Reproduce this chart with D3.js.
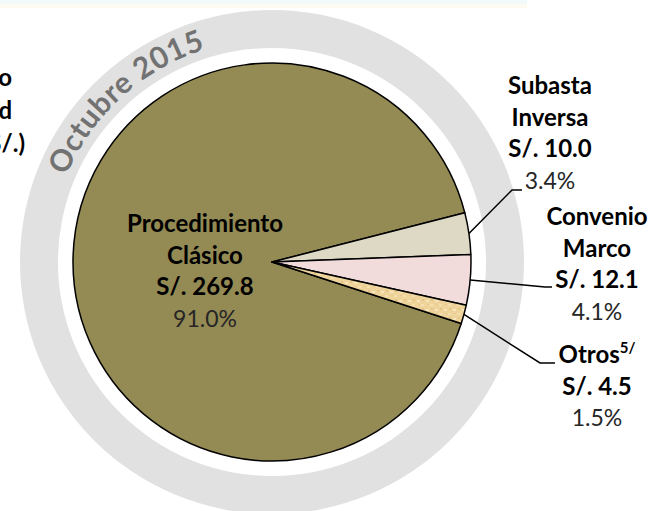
<!DOCTYPE html>
<html lang="es">

<head>
    <meta charset="UTF-8">
    <title>Monto adjudicado - Octubre 2015</title>
    <script src="https://d3js.org/d3.v7.min.js"></script>
    <style>
        body { margin: 0; background: #fff; }
        text { font-family: Lato, "Open Sans", sans-serif; }
    </style>
</head>

<body>
    <svg id="chart" width="652" height="511"></svg>

    <script>
        // datos del gráfico
        const categorias = ["Procedimiento Clásico", "Subasta Inversa", "Convenio Marco", "Otros"];
        const montos = [269.8, 10.0, 12.1, 4.5];
        const lineasNombre = [["Procedimiento", "Clásico"], ["Subasta", "Inversa"], ["Convenio", "Marco"], ["Otros"]];
        const periodo = "Octubre 2015";
        const tituloLineas = ["Monto adjudicado", "según modalidad", "(millones de S/.)"];

        const colores = ["#948a54", "#ddd9c4", "#f2dcdb", "url(#textura)"];

        // posición de etiquetas y codo de las líneas guía
        const etiquetas = [
            { x: 205, y: 232, codo: null },
            { x: 550, y: 94, codo: [[512, 190], [522, 190]] },
            { x: 597, y: 225, codo: [[545, 287], [552, 287]] },
            { x: 597, y: 363, codo: [[540, 363], [555, 363]] }
        ];

        const cx = 272, cy = 262, radio = 199;
        const svg = d3.select("#chart");

        // textura para "Otros"
        const pat = svg.append("defs").append("pattern")
            .attr("id", "textura").attr("width", 9).attr("height", 9)
            .attr("patternUnits", "userSpaceOnUse");
        pat.append("rect").attr("width", 9).attr("height", 9).attr("fill", "#eed49a");
        pat.append("rect").attr("x", 1).attr("y", 2).attr("width", 3).attr("height", 2).attr("fill", "#f7e5bd");
        pat.append("rect").attr("x", 5).attr("y", 6).attr("width", 3).attr("height", 2).attr("fill", "#f5dfae");
        pat.append("rect").attr("x", 6).attr("y", 1).attr("width", 2).attr("height", 2).attr("fill", "#e3c487");
        pat.append("rect").attr("x", 2).attr("y", 6).attr("width", 2).attr("height", 1).attr("fill", "#e6c98f");

        // franja superior tenue
        svg.append("rect").attr("x", 0).attr("y", 0).attr("width", 527).attr("height", 4).attr("fill", "#f1f9fb");
        svg.append("rect").attr("x", 0).attr("y", 4).attr("width", 527).attr("height", 4).attr("fill", "#fffaf1");

        const g = svg.append("g").attr("transform", `translate(${cx},${cy})`);

        // anillo gris
        g.append("path")
            .attr("d", d3.arc()({ innerRadius: 214, outerRadius: 252, startAngle: 0, endAngle: 2 * Math.PI }))
            .attr("fill", "#e1e1e1");

        // texto curvo del periodo
        const p = d3.path();
        p.arc(0, 0, 223, Math.PI, 1.5 * Math.PI);
        g.append("path").attr("id", "curva").attr("d", p.toString()).attr("fill", "none");
        g.append("text")
            .attr("font-size", 30).attr("font-weight", "bold").attr("fill", "#727272")
            .attr("letter-spacing", 0.6)
            .append("textPath").attr("href", "#curva")
            .attr("startOffset", "53%").attr("text-anchor", "middle")
            .text(periodo);

        // pie
        const inicio = 108 * Math.PI / 180;
        const pie = d3.pie().sort(null).startAngle(inicio).endAngle(inicio + 2 * Math.PI);
        const arcos = pie(montos);
        const arc = d3.arc().innerRadius(0).outerRadius(radio);

        g.selectAll(".slice")
            .data(arcos)
            .enter().append("path")
            .attr("class", "slice")
            .attr("d", arc)
            .attr("fill", (d, i) => colores[i])
            .attr("stroke", "#000")
            .attr("stroke-width", 1.5)
            .attr("stroke-linejoin", "round");

        const total = d3.sum(montos);
        const pct = d3.format(".1%");

        // líneas guía
        arcos.forEach((d, i) => {
            const e = etiquetas[i];
            if (!e.codo) return;
            const a = (d.startAngle + d.endAngle) / 2;
            const x0 = cx + radio * Math.sin(a), y0 = cy - radio * Math.cos(a);
            svg.append("path")
                .attr("d", d3.line()([[x0, y0]].concat(e.codo)))
                .attr("fill", "none").attr("stroke", "#000").attr("stroke-width", 1.5);
        });

        // etiquetas
        arcos.forEach((d, i) => {
            const e = etiquetas[i];
            const t = svg.append("text").attr("text-anchor", "middle");
            const lineas = lineasNombre[i].concat([`S/. ${d3.format(".1f")(montos[i])}`]);
            lineas.forEach((s, j) => {
                const ts = t.append("tspan").attr("x", e.x).attr("y", e.y + j * 31.5)
                    .attr("font-size", 24).attr("font-weight", "bold").attr("fill", "#000").text(s);
                if (categorias[i] === "Otros" && j === 0) {
                    ts.append("tspan").attr("font-size", 15).attr("dy", -10).text("5/");
                }
            });
            t.append("tspan").attr("x", e.x).attr("y", e.y + lineas.length * 31.5)
                .attr("font-size", 23).attr("fill", "#262626").text(pct(montos[i] / total));
        });

        // título lateral (recortado por el borde izquierdo)
        const tx = [12, 12, 25], ty = [86, 119, 152];
        tituloLineas.forEach((s, i) => {
            svg.append("text").attr("x", tx[i]).attr("y", ty[i])
                .attr("text-anchor", "end").attr("font-size", 24).attr("font-weight", "bold")
                .attr("fill", "#000").text(s);
        });
    </script>
</body>

</html>
